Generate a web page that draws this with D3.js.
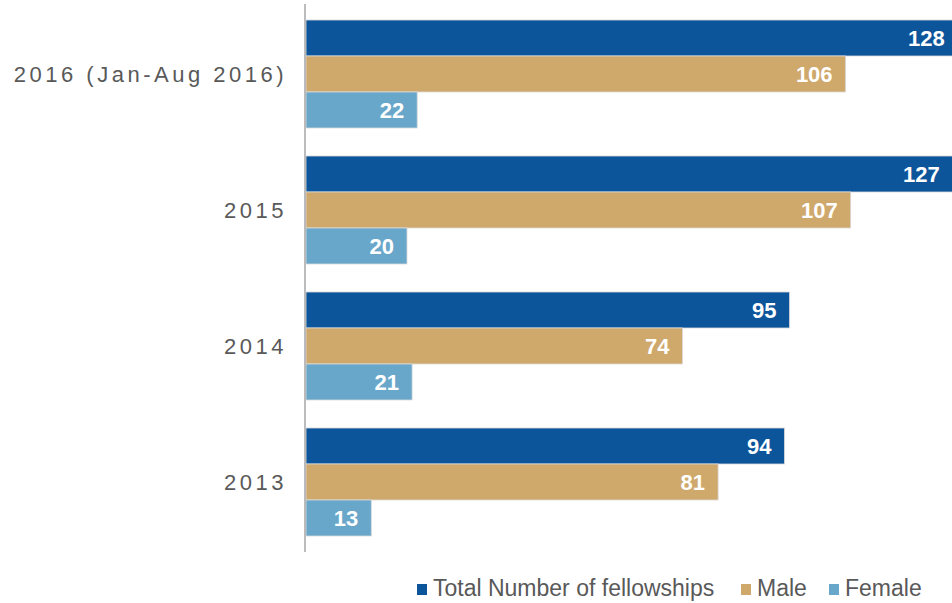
<!DOCTYPE html>
<html><head><meta charset="utf-8">
<script src="https://cdn.jsdelivr.net/npm/d3@7"></script>
<style>
html,body{margin:0;padding:0;background:#fff;}
svg{display:block;font-family:"Liberation Sans",Arial,sans-serif;}
</style></head>
<body>
<svg id="chart" width="952" height="603"></svg>
<script>
const categories = ["2016 (Jan-Aug 2016)", "2015", "2014", "2013"];
const seriesNames = ["Total Number of fellowships", "Male", "Female"];
const totalValues = [128, 127, 95, 94];
const maleValues = [106, 107, 74, 81];
const femaleValues = [22, 20, 21, 13];
const colors = ["#0d559b", "#cfa86c", "#69a7ca"];

const seriesValues = [totalValues, maleValues, femaleValues];
const svg = d3.select("#chart");

const x = d3.scaleLinear().domain([0, 130]).range([305, 968]);
const y = d3.scaleBand().domain(categories).range([6, 550]).paddingInner(0).paddingOuter(0);
const inner = d3.scaleBand().domain(seriesNames).range([14, y.bandwidth() - 14]);

const groups = svg.append("g").selectAll("g").data(categories).join("g")
  .attr("transform", d => `translate(0,${y(d)})`);

groups.each(function(cat, ci) {
  const g = d3.select(this);
  seriesNames.forEach((s, si) => {
    const v = seriesValues[si][ci];
    g.append("rect")
      .attr("x", x(0) + 1)
      .attr("y", inner(s))
      .attr("width", x(v) - x(0) - 1)
      .attr("height", inner.bandwidth())
      .attr("fill", colors[si])
      .attr("stroke", "#d9d9d9")
      .attr("stroke-width", 0.8);
    g.append("text")
      .attr("x", Math.min(x(v), 958) - 13)
      .attr("y", inner(s) + inner.bandwidth() / 2)
      .attr("dy", "0.36em")
      .attr("text-anchor", "end")
      .attr("fill", "#fff")
      .attr("font-weight", "bold")
      .attr("font-size", "22px")
      .text(v);
  });
});

// axis
const axis = d3.axisLeft(y).tickSize(0).tickPadding(18);
const ax = svg.append("g").attr("transform", `translate(${x(0)},0)`).call(axis);
ax.select(".domain").remove();
ax.selectAll("text")
  .attr("font-family", "Liberation Sans, Arial, sans-serif")
  .attr("font-size", "22px")
  .attr("fill", "#595959")
  .attr("dy", "0.38em")
  .style("letter-spacing", "3.5px");
svg.append("line")
  .attr("x1", x(0)).attr("x2", x(0))
  .attr("y1", 4).attr("y2", 552)
  .attr("stroke", "#a6a6a6").attr("stroke-width", 1.5);

// legend
const legendPos = [417, 741, 829];
const leg = svg.append("g");
seriesNames.forEach((s, i) => {
  leg.append("rect").attr("x", legendPos[i]).attr("y", 584).attr("width", 10).attr("height", 11)
    .attr("fill", colors[i]);
  leg.append("text").attr("x", legendPos[i] + 16).attr("y", 596)
    .attr("font-size", "23px").attr("fill", "#595959").text(s);
});
</script>
</body></html>
